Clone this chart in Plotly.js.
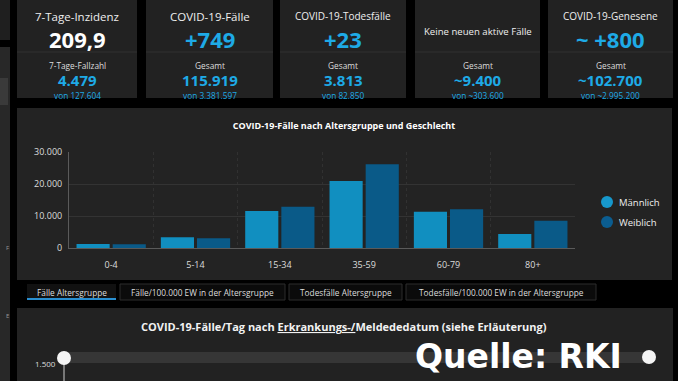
<!DOCTYPE html>
<html>
<head>
<meta charset="utf-8">
<script src="https://cdn.plot.ly/plotly-3.0.1.min.js"></script>
<style>html,body{margin:0;padding:0;background:#000;}#chart{width:678px;height:381px;}</style>
</head>
<body>
<div id="chart"></div>
<script>
// ---- Data ----
const ageGroups = ['0-4', '5-14', '15-34', '35-59', '60-79', '80+'];
const maleCases = [1250, 3350, 11600, 20900, 11300, 4400];
const femaleCases = [1150, 3050, 12900, 26200, 12100, 8500];
const seriesNames = ['Männlich', 'Weiblich'];
const yTickVals = [0, 10000, 20000, 30000];

const cardTitles = ['7-Tage-Inzidenz', 'COVID-19-Fälle', 'COVID-19-Todesfälle', 'Keine neuen aktive Fälle', 'COVID-19-Genesene'];
const cardMain = ['209,9', '+749', '+23', '', '~ +800'];
const cardSubLabels = ['7-Tage-Fallzahl', 'Gesamt', 'Gesamt', 'Gesamt', 'Gesamt'];
const cardSubValues = ['4.479', '115.919', '3.813', '~9.400', '~102.700'];
const cardSubTotals = ['von 127.604', 'von 3.381.597', 'von 82.850', 'von ~303.600', 'von ~2.995.200'];
const tabLabels = ['Fälle Altersgruppe', 'Fälle/100.000 EW in der Altersgruppe', 'Todesfälle Altersgruppe', 'Todesfälle/100.000 EW in der Altersgruppe'];
const chartTitle = 'COVID-19-Fälle nach Altersgruppe und Geschlecht';
const bottomTitle = 'COVID-19-Fälle/Tag nach <u>Erkrankungs-/</u>Meldededatum (siehe Erläuterung)';
const bottomTick = '1.500';
const sourceText = 'Quelle: RKI';

// ---- Styling / layout helpers ----
const W = 678, H = 381;
const FONT = 'Open Sans, Noto Sans, DejaVu Sans, sans-serif';
const BLUE = '#1eaae6';
const MALE = '#118fc0', FEMALE = '#0a5a88';
const LEG_COLORS = ['#1798cc', '#0b5d90'];
const px = x => x / W;
const py = y => 1 - y / H;
const shapes = [];
const annotations = [];
function rect(x0, y0, x1, y1, fill, lineColor, lw) {
  shapes.push({type: 'rect', xref: 'paper', yref: 'paper', layer: 'below',
    x0: px(x0), x1: px(x1), y0: py(y1), y1: py(y0),
    fillcolor: fill, line: {width: lw || 0, color: lineColor || fill}});
}
function line(x0, y0, x1, y1, color, w) {
  shapes.push({type: 'line', xref: 'paper', yref: 'paper', layer: 'below',
    x0: px(x0), x1: px(x1), y0: py(y0), y1: py(y1), line: {color: color, width: w || 1}});
}
function circle(cx, cy, r, fill) {
  shapes.push({type: 'circle', xref: 'paper', yref: 'paper', layer: 'above',
    x0: px(cx - r), x1: px(cx + r), y0: py(cy + r), y1: py(cy - r),
    fillcolor: fill, line: {width: 0}});
}
function text(x, y, t, size, color, bold, xanchor, family) {
  annotations.push({xref: 'paper', yref: 'paper', x: px(x), y: py(y), text: t,
    showarrow: false, xanchor: xanchor || 'center', yanchor: 'middle',
    font: {family: family || FONT, size: size, color: color, weight: bold ? 'bold' : 'normal'}});
}

// left strip
rect(0, 0, 10, 40, '#1f1f1f');
rect(0, 47, 10, 381, '#282828');
rect(0, 78, 8, 105, '#3a3a3a');
text(7, 248, 'F', 6, '#999', false);
text(7, 316, 'E', 6, '#999', false);

// KPI cards
const cardX = [[17, 137], [146, 273], [280, 406], [415, 540], [548, 673]];
const cardTitleSize = [11.5, 11.5, 10, 9.6, 10];
cardX.forEach((c, i) => {
  rect(c[0], -2, c[1], 98, '#222222');
  line(c[0], 52, c[1], 52, '#303030', 1);
  const cx = (c[0] + c[1]) / 2;
  if (cardMain[i]) {
    text(cx, 16, cardTitles[i], cardTitleSize[i], '#eeeeee', false);
    text(cx, 39, cardMain[i], 22, i === 0 ? '#ffffff' : BLUE, true);
  } else {
    text(cx, 31, cardTitles[i], cardTitleSize[i], '#eeeeee', false);
  }
  text(cx, 65, cardSubLabels[i], 8.3, '#dddddd', false);
  text(cx, 80, cardSubValues[i], 15, BLUE, true);
  text(cx, 95, cardSubTotals[i], 8.3, BLUE, false);
});

// bar chart panel
rect(17, 108, 672, 280, '#232323');

// manual legend (circle markers)
seriesNames.forEach((n, i) => {
  circle(607, 202 + i * 20, 6, LEG_COLORS[i]);
  text(617, 202 + i * 20, n, 9.5, '#eeeeee', false, 'left');
});

// tabs
const tabX = [[27, 116], [120, 285], [289, 402], [406, 596]];
tabX.forEach((t, i) => {
  if (i === 0) {
    rect(t[0], 284, t[1], 300, '#111111');
    line(t[0], 299, t[1], 299, '#2a8fd0', 2);
  } else {
    rect(t[0], 284, t[1], 300, '#0b0b0b', '#2c2c2c', 1);
  }
  text((t[0] + t[1]) / 2, 292, tabLabels[i], 8.3, '#dddddd', false);
});

// lower panel
rect(17, 308, 673, 385, '#222222');
text(344, 326, bottomTitle, 11, '#f2f2f2', true);
rect(64, 352, 649, 363, '#363636');
line(64, 362, 64, 385, '#cccccc', 1);
circle(64, 358, 7, '#f4f4f4');
circle(649, 357, 7, '#f4f4f4');
text(45, 363, bottomTick, 8, '#dddddd', false);
text(413, 356, sourceText, 33, '#ffffff', true, 'left', 'DejaVu Sans, Liberation Sans, sans-serif');

// ---- Traces ----
const traces = [
  {type: 'bar', name: seriesNames[0], x: ageGroups, y: maleCases, marker: {color: MALE}},
  {type: 'bar', name: seriesNames[1], x: ageGroups, y: femaleCases, marker: {color: FEMALE}}
];

const layout = {
  width: W, height: H,
  margin: {l: 0, r: 0, t: 0, b: 0},
  paper_bgcolor: '#000000',
  plot_bgcolor: 'rgba(0,0,0,0)',
  separators: ',.',
  font: {family: FONT, color: '#dddddd'},
  title: {text: chartTitle, x: 344 / W, y: py(126), xref: 'paper', yref: 'paper', xanchor: 'center', yanchor: 'middle',
    font: {family: FONT, size: 9, color: '#ffffff', weight: 'bold'}},
  barmode: 'group',
  bargap: 0.143,
  bargroupgap: 0.083,
  showlegend: false,
  xaxis: {
    domain: [px(69), px(575)],
    type: 'category',
    tickson: 'boundaries',
    showgrid: true, gridcolor: '#313131', griddash: 'dot', gridwidth: 1,
    showline: true, linecolor: '#5a5a5a', linewidth: 1,
    ticks: '', ticklabelstandoff: 8,
    tickfont: {family: FONT, size: 9, color: '#dddddd'},
    fixedrange: true
  },
  yaxis: {
    domain: [py(248), py(152)],
    range: [0, 30000], autorange: false,
    tickvals: yTickVals, tickformat: ',d',
    showgrid: true, gridcolor: '#333333', gridwidth: 1,
    zeroline: false,
    showline: true, linecolor: '#5a5a5a', linewidth: 1,
    ticks: '', ticklabelstandoff: 4,
    tickfont: {family: FONT, size: 9, color: '#dddddd'},
    fixedrange: true
  },
  shapes: shapes,
  annotations: annotations
};

Plotly.newPlot('chart', traces, layout, {displayModeBar: false, staticPlot: true});
</script>
</body>
</html>
